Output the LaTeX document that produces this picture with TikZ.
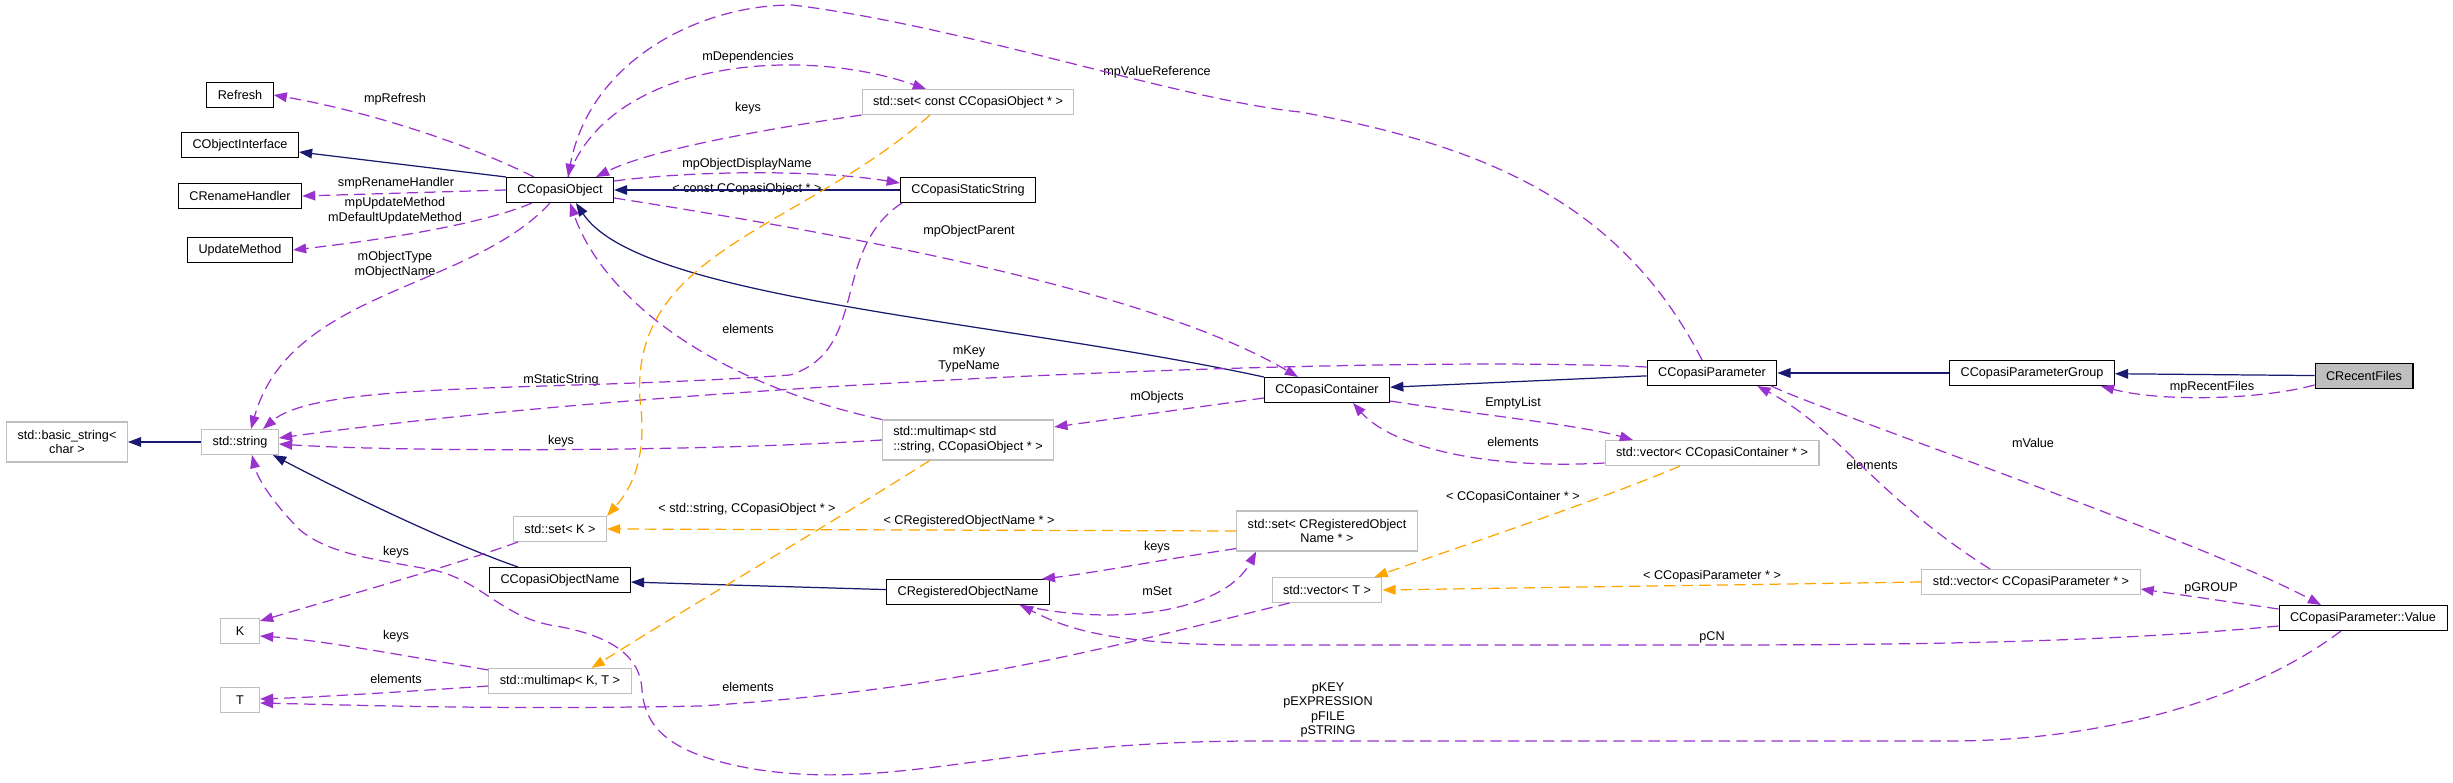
\documentclass[tikz,border=0pt]{standalone}
\usepackage{fontspec}
\setmainfont{Liberation Sans}
\usepackage{xcolor}
\usepackage{tikz}
\usetikzlibrary{arrows.meta, calc}

\definecolor{inhblue}{HTML}{191970}
\definecolor{usepurple}{HTML}{9A32CD}
\definecolor{tmplorange}{HTML}{FFA500}
\definecolor{extgrey}{HTML}{BFBFBF}

\begin{document}
\begin{tikzpicture}[
  x=0.02cm, y=-0.02cm,
  every node/.style={font=\fontsize{7.2}{8.3}\selectfont},
  cls/.style={draw=black, line width=0.6pt, fill=white, minimum height=0.5cm, inner xsep=0.22cm, align=center},
  ext/.style={cls, draw=extgrey},
  tall/.style={minimum height=0.8cm},
  lbl/.style={inner sep=0pt, align=center},
  inherit/.style={-{Triangle[length=7.5pt, width=5.5pt]}, line width=0.7pt, color=inhblue},
  member/.style={-{Triangle[length=7.5pt, width=5.5pt]}, line width=0.7pt, color=usepurple, dash pattern=on 6.5pt off 3.5pt},
  tmpl/.style={-{Triangle[length=7.5pt, width=5.5pt]}, line width=0.7pt, color=tmplorange, dash pattern=on 6.5pt off 3.5pt}
]
  \useasboundingbox (0,0) rectangle (2453,783);

  % classes
  \node[cls] (refresh) at (240,95) {Refresh};
  \node[cls] (ciface) at (240,145) {CObjectInterface};
  \node[cls] (crename) at (240,196) {CRenameHandler};
  \node[cls] (updm) at (240,250) {UpdateMethod};
  \node[cls] (cobj) at (560,190) {CCopasiObject};
  \node[ext] (setcobj) at (968,102) {std::set< const CCopasiObject * >};
  \node[cls] (cstatic) at (968,190) {CCopasiStaticString};
  \node[cls] (ccont) at (1327,390) {CCopasiContainer};
  \node[cls] (cparam) at (1712,373) {CCopasiParameter};
  \node[cls] (cpgroup) at (2032,373) {CCopasiParameterGroup};
  \node[cls, fill=extgrey] (crecent) at (2364,376) {CRecentFiles};
  \node[ext, tall] (bstring) at (67,442) {std::basic\_string<\\char >};
  \node[ext] (sstring) at (240,442) {std::string};
  \node[ext, tall, align=left] (mmstr) at (968,440) {std::multimap< std\\::string, CCopasiObject * >};
  \node[ext] (vcont) at (1712,453) {std::vector< CCopasiContainer * >};
  \node[ext] (setk) at (560,529) {std::set< K >};
  \node[ext, tall] (setreg) at (1327,531) {std::set< CRegisteredObject\\Name * >};
  \node[cls] (cobjname) at (560,580) {CCopasiObjectName};
  \node[cls] (creg) at (968,592) {CRegisteredObjectName};
  \node[ext] (vect) at (1327,590) {std::vector< T >};
  \node[ext] (vparam) at (2031,582) {std::vector< CCopasiParameter * >};
  \node[cls] (pvalue) at (2363,618) {CCopasiParameter::Value};
  \node[ext, minimum width=0.78cm] (kk) at (240,631) {K};
  \node[ext] (mmkt) at (560,681) {std::multimap< K, T >};
  \node[ext, minimum width=0.78cm] (tt) at (240,700) {T};

  % edge labels
  \node[lbl] (lRefresh) at (395,99) {mpRefresh};
  \node[lbl] (lRename) at (396,183) {smpRenameHandler};
  \node[lbl] (lUpdate) at (395,211) {mpUpdateMethod\\mDefaultUpdateMethod};
  \node[lbl] (lObjType) at (395,265) {mObjectType\\mObjectName};
  \node[lbl] (lStatic) at (561,380) {mStaticString};
  \node[lbl] (lDeps) at (748,57) {mDependencies};
  \node[lbl] (lKeysSet) at (748,108) {keys};
  \node[lbl] (lDisplay) at (747,164) {mpObjectDisplayName};
  \node[lbl] (lConstObj) at (747,189) {< const CCopasiObject * >};
  \node[lbl] (lParent) at (969,231) {mpObjectParent};
  \node[lbl] (lValRef) at (1157,72) {mpValueReference};
  \node[lbl] (lElemObj) at (748,329) {elements};
  \node[lbl] (lKey) at (969,359) {mKey\\TypeName};
  \node[lbl] (lObjects) at (1157,397) {mObjects};
  \node[lbl] (lKeysStr) at (561,441) {keys};
  \node[lbl] (lEmpty) at (1513,403) {EmptyList};
  \node[lbl] (lElemCont) at (1513,442) {elements};
  \node[lbl] (lRecent) at (2212,387) {mpRecentFiles};
  \node[lbl] (lValue) at (2033,443) {mValue};
  \node[lbl] (lElemPar) at (1872,465) {elements};
  \node[lbl] (lGroup) at (2211,588) {pGROUP};
  \node[lbl] (lContT) at (1513,497) {< CCopasiContainer * >};
  \node[lbl] (lParT) at (1712,576) {< CCopasiParameter * >};
  \node[lbl] (lCN) at (1712,637) {pCN};
  \node[lbl] (lStrings) at (1328,710) {pKEY\\pEXPRESSION\\pFILE\\pSTRING};
  \node[lbl] (lStrObj) at (747,509) {< std::string, CCopasiObject * >};
  \node[lbl] (lRegT) at (969,521) {< CRegisteredObjectName * >};
  \node[lbl] (lKeysReg) at (1157,547) {keys};
  \node[lbl] (lSet) at (1157,591) {mSet};
  \node[lbl] (lKeysK) at (396,552) {keys};
  \node[lbl] (lKeysMap) at (396,636) {keys};
  \node[lbl] (lElemMap) at (396,679) {elements};
  \node[lbl] (lElemVec) at (748,687) {elements};

  % inheritance
  \draw[inherit] (cobj.north west) -- ($(ciface.east)+(0,7)$);
  \draw[inherit] (cstatic) -- (cobj);
  \draw[inherit] (ccont.north west) .. controls (1000,320) and (640,300) .. ($(cobj.south)+(16,0)$);
  \draw[inherit] (cparam) -- (ccont);
  \draw[inherit] (cpgroup) -- (cparam);
  \draw[inherit] (crecent) -- (cpgroup);
  \draw[inherit] (sstring) -- (bstring);
  \draw[inherit] ($(cobjname.north)+(-42,0)$) .. controls (440,540) and (330,485) .. ($(sstring.south east)+(-6,0)$);
  \draw[inherit] (creg) -- (cobjname);

  % members
  \draw[member] ($(cobj.north)+(-26,0)$) .. controls (460,140) and (360,110) .. (refresh.east);
  \draw[member] (cobj.west) -- (crename.east);
  \draw[member] ($(cobj.south)+(-28,0)$) .. controls (480,225) and (380,240) .. (updm.east);
  \draw[member] ($(cobj.south)+(-10,0)$) .. controls (470,290) and (290,290) .. ($(sstring.north)+(11,0)$);
  \draw[member] (setcobj.south west) .. controls (760,130) and (650,150) .. ($(cobj.north)+(36,0)$);
  \draw[member] ($(cobj.north)+(8,0)$) .. controls (610,60) and (800,45) .. ($(setcobj.north)+(-42,0)$);
  \draw[member] ($(cparam.north)+(-10,0)$) .. controls (1620,200) and (1480,145) .. (1300,112) .. controls (1180,100) and (960,25) .. (792,5) .. controls (700,5) and (590,60) .. ($(cobj.north)+(8,0)$);
  \draw[member] ($(cobj.east)+(0,-9)$) .. controls (700,170) and (820,170) .. ($(cstatic.west)+(0,-7)$);
  \draw[member] ($(cobj.east)+(0,8)$) .. controls (850,235) and (1150,290) .. ($(ccont.north)+(-29,0)$);
  \draw[member] ($(cstatic.south west)+(2,0)$) .. controls (830,250) and (870,350) .. (790,375) .. controls (560,392) and (320,380) .. ($(sstring.north)+(23,0)$);
  \draw[member] ($(cparam.west)+(0,-6)$) .. controls (1400,355) and (700,380) .. ($(sstring.east)+(0,-4)$);
  \draw[member] (mmstr.west) .. controls (700,452) and (400,452) .. ($(sstring.east)+(0,2)$);
  \draw[member] (mmstr.north west) .. controls (700,380) and (600,290) .. ($(cobj.south)+(10,0)$);
  \draw[member] ($(ccont.west)+(0,8)$) -- ($(mmstr.east)+(0,-13)$);
  \draw[member] ($(ccont.south east)+(0,-2)$) .. controls (1480,415) and (1580,425) .. ($(vcont.north)+(-79,0)$);
  \draw[member] ($(vcont.west)+(0,10)$) .. controls (1480,470) and (1390,445) .. ($(ccont.south)+(26,0)$);
  \draw[member] ($(crecent.west)+(0,9)$) .. controls (2260,400) and (2160,402) .. ($(cpgroup.south east)+(-14,0)$);
  \draw[member] ($(cparam.south east)+(-6,0)$) .. controls (1820,410) and (2200,540) .. ($(pvalue.north)+(-42,0)$);
  \draw[member] ($(vparam.north)+(-41,0)$) .. controls (1880,500) and (1840,430) .. ($(cparam.south east)+(-20,0)$);
  \draw[member] ($(pvalue.west)+(0,-9)$) -- ($(vparam.east)+(0,7)$);
  \draw[member] ($(pvalue.west)+(0,8)$) .. controls (2100,643) and (1900,645) .. (1700,645) -- (1250,645) .. controls (1100,645) and (1060,625) .. ($(creg.south)+(52,0)$);
  \draw[member] ($(creg.south)+(52,0)$) .. controls (1120,628) and (1225,610) .. ($(setreg.south west)+(20,0)$);
  \draw[member] ($(setreg.south west)+(0,-3)$) .. controls (1160,560) and (1100,572) .. ($(creg.north east)+(-8,0)$);
  \draw[member] ($(setk.south west)+(5,0)$) .. controls (440,570) and (330,600) .. ($(kk.east)+(0,-10)$);
  \draw[member] ($(mmkt.north west)+(0,2)$) .. controls (400,655) and (320,640) .. ($(kk.east)+(0,5)$);
  \draw[member] ($(mmkt.west)+(0,5)$) .. controls (400,692) and (320,697) .. ($(tt.east)+(0,-1)$);
  \draw[member] ($(vect.south west)+(18,0)$) .. controls (1100,650) and (950,690) .. (700,706) .. controls (500,710) and (350,705) .. ($(tt.east)+(0,3)$);
  \draw[member] ($(pvalue.south)+(-22,0)$) .. controls (2250,700) and (2100,741) .. (1950,741) -- (1250,741) .. controls (1000,742) and (900,790) .. (760,770) .. controls (665,755) and (645,725) .. (642,690) .. controls (640,650) and (600,633) .. (550,625) .. controls (500,615) and (480,580) .. (433,570) .. controls (380,560) and (330,555) .. (300,530) .. controls (275,505) and (258,480) .. ($(sstring.south)+(12,0)$);

  % template instances
  \draw[tmpl] (setreg.west) -- (setk.east);
  \draw[tmpl] ($(mmstr.south west)+(48,0)$) .. controls (820,530) and (700,600) .. ($(mmkt.north east)+(-40,0)$);
  \draw[tmpl] ($(setcobj.south)+(-38,0)$) .. controls (800,230) and (630,250) .. (640,400) .. controls (648,460) and (630,490) .. (setk.north east);
  \draw[tmpl] ($(vcont.south)+(-32,0)$) .. controls (1600,500) and (1450,550) .. ($(vect.north east)+(-8,0)$);
  \draw[tmpl] (vparam.west) -- (vect.east);
\end{tikzpicture}
\end{document}
